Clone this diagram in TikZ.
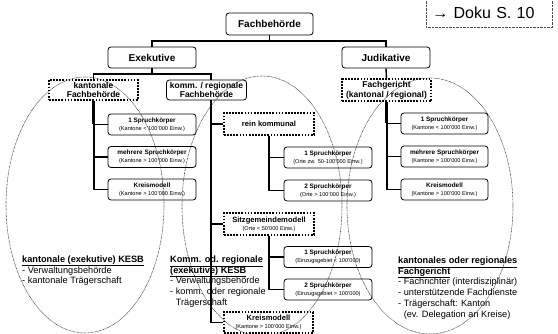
\documentclass[tikz,border=0pt]{standalone}
\usepackage{fontspec}
\setmainfont{Liberation Sans}
\usetikzlibrary{calc}
\newcommand\mytit[1]{{\fontsize{6.4}{8}\selectfont\bfseries #1}}
\newcommand\mysub[1]{{\fontsize{5.6}{8}\selectfont #1}}
\newcommand\mybig[1]{{\fontsize{7.6}{9}\selectfont\bfseries #1}}
\begin{document}
\begin{tikzpicture}[x=1pt,y=-1pt,
  box/.style={draw=black, line width=0.8pt, rounded corners=3pt, align=center, inner sep=0pt,
    minimum width=88pt, minimum height=21pt, fill=white, font=\fontsize{6}{8}\selectfont},
  dbox/.style={draw=black, line width=2pt, dash pattern=on 1.7pt off 1.4pt, align=center, inner sep=0pt,
    minimum width=89pt, minimum height=21pt, fill=white, font=\fontsize{6}{8}\selectfont},
  topbox/.style={box, font=\fontsize{10}{12}\selectfont\bfseries},
  lvtwo/.style={font=\fontsize{8.5}{9.5}\selectfont\bfseries},
  conn/.style={line width=1.4pt},
  medline/.style={line width=2pt},
  heavy/.style={line width=2.8pt},
  ell/.style={draw=black!85, line width=0.55pt, dash pattern=on 0.7pt off 0.7pt},
  txtblock/.style={align=left, inner sep=0pt, anchor=north west, font=\fontsize{9.2}{10.8}\selectfont},
  doku/.style={draw=black!70, line width=0.5pt, dash pattern=on 0.6pt off 0.8pt, inner ysep=0pt,
    inner xsep=6pt, text width=114pt, align=left, minimum height=29pt, anchor=south west,
    font=\fontsize{16}{18}\selectfont}
]
\useasboundingbox (0,0) rectangle (558,334);

% top levels
\node[topbox, minimum width=87pt, minimum height=22pt] (fb) at (269.5,24) {Fachbehörde};
\node[topbox] (exe) at (152,57.5) {Exekutive};
\node[topbox] (jud) at (386,57.5) {Judikative};
\node[doku] (dk) at (426,28) {→ Doku S. 10};

% level 2
\node[dbox, lvtwo, minimum height=20pt] (kfb) at (93.5,90) {kantonale\\Fachbehörde};
\node[box, lvtwo, minimum width=80pt, minimum height=20pt] (krf) at (206.5,90) {komm. / regionale\\Fachbehörde};
\node[dbox, lvtwo, minimum height=22pt] (fg) at (386.5,90.5) {Fachgericht\\(kantonal / regional)};

% left column
\node[box] (L1) at (152,124.5) {\mytit{1 Spruchkörper}\\\mysub{(Kantone < 100'000 Einw.)}};
\node[box] (L2) at (152,157) {\mytit{mehrere Spruchkörper}\\\mysub{(Kantone > 100'000 Einw.)}};
\node[box] (L3) at (152,189.5) {\mytit{Kreismodell}\\\mysub{(Kantone > 100'000 Einw.)}};

% middle column
\node[dbox, minimum width=90pt, minimum height=22pt, font=\fontsize{7.6}{9}\selectfont\bfseries] (rk) at (269,124) {rein kommunal};
\node[box] (m1) at (328,157.5) {\mytit{1 Spruchkörper}\\\mysub{(Orte zw. 50-100'000 Einw.)}};
\node[box] (m2) at (328,190.5) {\mytit{2 Spruchkörper}\\\mysub{(Orte > 100'000 Einw.)}};
\node[dbox, minimum width=90pt, minimum height=22pt] (sg) at (269,224) {\mybig{Sitzgemeindemodell}\\\mysub{(Orte < 50'000 Einw.)}};
\node[box] (s1) at (328,257) {\mytit{1 Spruchkörper}\\\mysub{(Einzugsgebiet < 100'000)}};
\node[box] (s2) at (328,289.5) {\mytit{2 Spruchkörper}\\\mysub{(Einzugsgebiet > 100'000)}};
\node[dbox, minimum width=89pt, minimum height=21pt] (km) at (268.5,322.5) {\mybig{Kreismodell}\\\mysub{(Kantone > 100'000 Einw.)}};

% right column
\node[box, minimum width=87pt] (r1) at (444.5,123.5) {\mytit{1 Spruchkörper}\\\mysub{(Kantone < 100'000 Einw.)}};
\node[box, minimum width=87pt] (r2) at (444.5,156.5) {\mytit{mehrere Spruchkörper}\\\mysub{(Kantone > 100'000 Einw.)}};
\node[box, minimum width=87pt] (r3) at (444.5,189.5) {\mytit{Kreismodell}\\\mysub{(Kantone > 100'000 Einw.)}};

% connectors
\coordinate (j1) at (269.5,41);
\coordinate (j2) at (152,74);
\draw[conn] (fb.south) -- (j1);
\draw[conn] (exe.north) |- (j1) -| (jud.north);
\draw[conn] (exe.south) -- (j2);
\draw[conn] (kfb.north) |- (j2) -| ([xshift=4.5pt]krf.north);
\draw[conn] (jud.south) -- (fg.north);

% left column connectors
\draw[conn] (kfb.south) |- (L1.west);
\draw[conn] (kfb.south) |- (L2.west);
\draw[conn] (kfb.south) |- (L3.west);
\draw[medline] (kfb.south |- L1.west) -- (kfb.south |- L3.west);
\draw[heavy] (kfb.south) -- (kfb.south |- L1.west);

% middle column connectors
\draw[conn] ([xshift=4.5pt]krf.south) |- (rk.west);
\draw[conn] ([xshift=4.5pt]krf.south) |- (sg.west);
\draw[conn] ([xshift=4.5pt]krf.south) |- (km.west);
\draw[heavy] ([xshift=4.5pt]krf.south) -- ([xshift=4.5pt]krf.south |- km.west);
\draw[conn] (rk.south) |- (m1.west);
\draw[conn] (rk.south) |- (m2.west);
\draw[medline] (rk.south) -- (rk.south |- m2.west);
\draw[conn] (sg.south) |- (s1.west);
\draw[conn] (sg.south) |- (s2.west);
\draw[medline] (sg.south) -- (sg.south |- s2.west);

% right column connectors
\draw[conn] (fg.south) |- (r1.west);
\draw[conn] (fg.south) |- (r2.west);
\draw[conn] (fg.south) |- (r3.west);
\draw[medline] (fg.south |- r1.west) -- (fg.south |- r3.west);
\draw[heavy] (fg.south) -- (fg.south |- r1.west);

% text blocks
\node[txtblock] (tl) at (22,255.5) {\textbf{\underline{kantonale (exekutive) KESB}}\\- Verwaltungsbehörde\\- kantonale Trägerschaft};
\node[txtblock] (tm) at (170,255.5) {\textbf{\underline{Komm. od. regionale}}\\\textbf{\underline{(exekutive) KESB}}\\- Verwaltungsbehörde\\- komm. oder regionale\\\phantom{- }Trägerschaft};
\node[txtblock] (tr) at (398,256.5) {\textbf{\underline{kantonales oder regionales}}\\\textbf{\underline{Fachgericht}}\\- Fachrichter (interdisziplinär)\\- unterstützende Fachdienste\\- Trägerschaft: Kanton\\\phantom{- }(ev. Delegation an Kreise)};

% ellipses
\draw[ell] (85,205) ellipse [x radius=79, y radius=128];
\draw[ell] (262,206) ellipse [x radius=80, y radius=130];
\draw[ell] (430,206) ellipse [x radius=83, y radius=128];
\end{tikzpicture}
\end{document}
